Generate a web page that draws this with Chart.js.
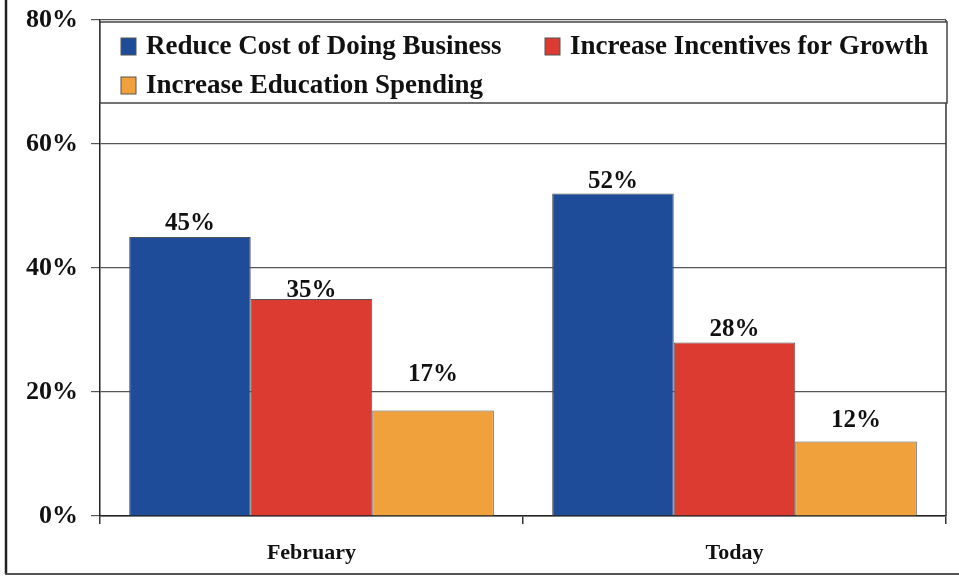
<!DOCTYPE html>
<html><head><meta charset="utf-8">
<script src="https://cdn.jsdelivr.net/npm/chart.js@4"></script>
<style>html,body{margin:0;padding:0;background:#fff}#wrap{width:959px;height:576px;position:relative}</style>
</head><body><div id="wrap"><canvas id="c" width="959" height="576"></canvas></div>
<script>
const categories = ['February', 'Today'];
const seriesLabels = ['Reduce Cost of Doing Business', 'Increase Incentives for Growth', 'Increase Education Spending'];
const reduceCost = [45, 52];
const incentives = [35, 28];
const education = [17, 12];
const yMin = 0, yMax = 80, yStep = 20;
const colors = ['#1e4c98', '#dc3b31', '#f0a13b'];
// gap (px) between each value label and the top of its bar, as placed in the original
const labelGaps = [[7, 6], [2, 6], [30, 15]];

const SERIF = "'Liberation Serif', 'Times New Roman', serif";

const frameAndLegend = {
  id: 'frameAndLegend',
  afterDatasetsDraw(chart) {
    const ctx = chart.ctx, a = chart.chartArea;
    ctx.save();
    // plot right border
    ctx.strokeStyle = '#333'; ctx.lineWidth = 1.5;
    ctx.beginPath(); ctx.moveTo(a.right, a.top); ctx.lineTo(a.right, a.bottom); ctx.stroke();
    // data labels
    ctx.fillStyle = '#111';
    ctx.font = 'bold 25px ' + SERIF;
    ctx.textAlign = 'center'; ctx.textBaseline = 'alphabetic';
    chart.data.datasets.forEach((ds, i) => {
      chart.getDatasetMeta(i).data.forEach((bar, j) => {
        ctx.fillText(ds.data[j] + '%', bar.x, bar.y - labelGaps[i][j]);
      });
    });
    // legend box
    const lx = a.left, ly = a.top + 2, lw = a.right - a.left + 1, lh = 81;
    ctx.fillStyle = '#fff';
    ctx.fillRect(lx, ly, lw, lh);
    ctx.strokeStyle = '#444'; ctx.lineWidth = 1.5;
    ctx.strokeRect(lx, ly, lw, lh);
    const pos = [[21, 24], [445, 24], [21, 63]];
    ctx.font = 'bold 27px ' + SERIF;
    ctx.textAlign = 'left'; ctx.textBaseline = 'middle';
    chart.data.datasets.forEach((ds, i) => {
      const x = lx + pos[i][0], y = ly + pos[i][1];
      ctx.fillStyle = ds.backgroundColor;
      ctx.fillRect(x, y - 8, 15, 17);
      ctx.strokeStyle = '#555'; ctx.lineWidth = 1;
      ctx.strokeRect(x, y - 8, 15, 17);
      ctx.fillStyle = '#111';
      ctx.fillText(ds.label, x + 25, y + 1);
    });
    // outer frame (left and bottom)
    ctx.strokeStyle = '#222'; ctx.lineWidth = 2.5;
    ctx.beginPath(); ctx.moveTo(6, 0); ctx.lineTo(6, 574); ctx.stroke();
    ctx.strokeStyle = '#555'; ctx.lineWidth = 2;
    ctx.beginPath(); ctx.moveTo(5, 574); ctx.lineTo(959, 574); ctx.stroke();
    ctx.restore();
  }
};

new Chart(document.getElementById('c'), {
  type: 'bar',
  data: {
    labels: categories,
    datasets: [
      { label: seriesLabels[0], data: reduceCost, backgroundColor: colors[0] },
      { label: seriesLabels[1], data: incentives, backgroundColor: colors[1] },
      { label: seriesLabels[2], data: education, backgroundColor: colors[2] }
    ].map(d => Object.assign(d, { borderColor: '#555', borderWidth: 1, categoryPercentage: 0.862, barPercentage: 1 }))
  },
  options: {
    responsive: false, animation: false, devicePixelRatio: 1,
    layout: { padding: { left: 0, top: 20, right: 13, bottom: 0 } },
    plugins: { legend: { display: false }, tooltip: { enabled: false } },
    scales: {
      x: {
        afterFit: s => { s.height = 60; s.paddingLeft = 0; s.paddingRight = 0; },
        grid: { offset: true, drawOnChartArea: false, drawTicks: true, tickLength: 8, color: '#333', lineWidth: 1.5 },
        border: { display: true, color: '#222', width: 1.5 },
        ticks: { color: '#111', padding: 16, font: { family: SERIF, weight: 'bold', size: 22 } }
      },
      y: {
        min: yMin, max: yMax,
        afterFit: s => { s.width = 100; s.paddingTop = 0; s.paddingBottom = 0; },
        grid: { color: '#555', lineWidth: 1.2, tickLength: 9, drawTicks: true },
        border: { display: true, color: '#222', width: 1.5 },
        ticks: { stepSize: yStep, color: '#111', padding: 13, callback: v => v + '%', font: { family: SERIF, weight: 'bold', size: 26 } }
      }
    }
  },
  plugins: [frameAndLegend]
});
</script></body></html>
